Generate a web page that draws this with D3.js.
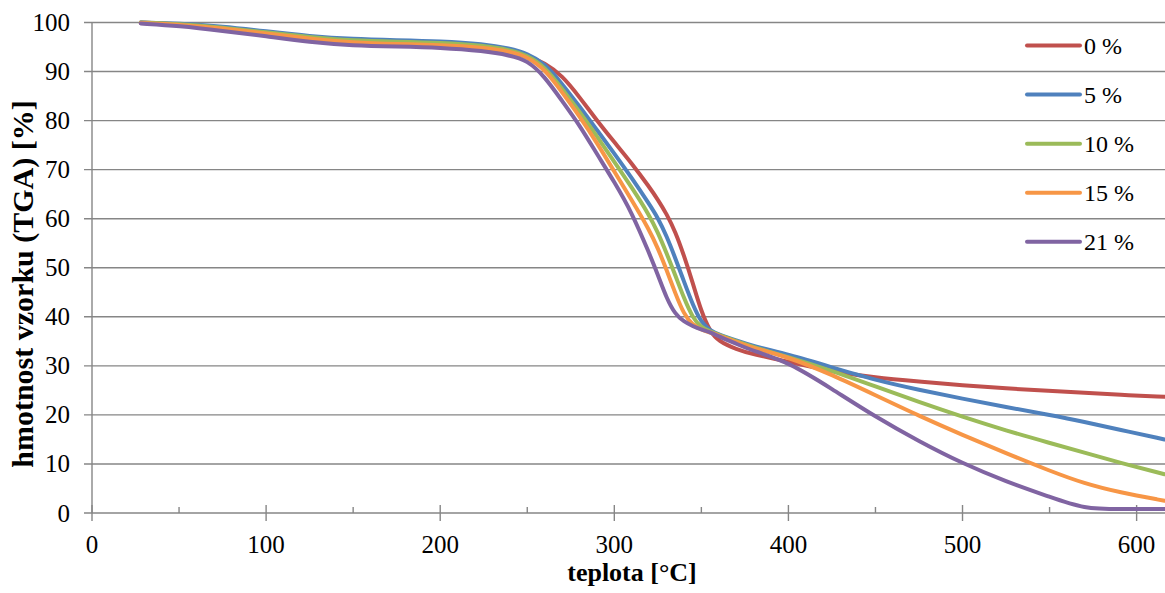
<!DOCTYPE html>
<html>
<head>
<meta charset="utf-8">
<script src="https://cdn.jsdelivr.net/npm/d3@7/dist/d3.min.js"></script>
<style>
  html, body { margin: 0; padding: 0; background: #fff; }
  svg { display: block; }
  text { font-family: "Liberation Serif", "Times New Roman", "DejaVu Serif", serif; fill: #000; }
</style>
</head>
<body>
<svg id="chart" width="1165" height="593"></svg>
<script>
// ---- data ----
const temperatures = [28, 50, 75, 100, 125, 150, 175, 200, 225, 240, 250, 260, 270, 280, 290, 300, 310, 320, 325, 330, 335, 340, 345, 350, 355, 360, 370, 380, 400, 425, 450, 475, 500, 525, 550, 570, 590, 616];

const series0  = [100.0, 99.6, 98.8, 97.6, 96.4, 95.6, 95.3, 95.2, 94.7, 94.0, 93.2, 91.8, 89.2, 84.8, 80.0, 75.6, 71.3, 66.5, 63.9, 61.0, 57.4, 52.5, 47.0, 41.0, 37.0, 35.0, 33.4, 32.3, 30.9, 28.8, 27.6, 26.8, 26.0, 25.4, 24.9, 24.5, 24.1, 23.7];
const series5  = [100.0, 99.8, 99.2, 98.2, 97.2, 96.6, 96.4, 96.2, 95.6, 94.7, 93.7, 91.7, 87.5, 82.9, 78.1, 73.3, 68.3, 63.0, 60.2, 56.5, 52.0, 47.2, 42.5, 38.8, 37.2, 36.4, 35.2, 34.0, 32.3, 29.7, 27.1, 25.1, 23.3, 21.6, 20.0, 18.6, 17.0, 15.0];
const series10 = [100.0, 99.7, 99.0, 98.0, 97.0, 96.3, 96.1, 95.9, 95.3, 94.4, 93.3, 91.0, 86.5, 81.8, 76.8, 71.6, 66.4, 60.8, 57.2, 53.0, 48.5, 43.8, 39.8, 37.8, 37.0, 36.3, 35.0, 33.8, 31.8, 29.0, 25.8, 22.6, 19.6, 16.8, 14.3, 12.3, 10.3, 7.9];
const series15 = [99.9, 99.6, 98.8, 97.8, 96.7, 95.9, 95.6, 95.4, 94.9, 94.1, 93.0, 90.5, 85.8, 80.9, 75.5, 69.6, 63.8, 57.8, 54.0, 49.6, 44.8, 40.5, 38.3, 37.4, 36.8, 36.2, 34.9, 33.6, 31.8, 28.2, 24.0, 19.8, 15.9, 12.2, 8.6, 6.0, 4.2, 2.5];
const series21 = [99.8, 99.3, 98.3, 97.2, 96.0, 95.3, 95.1, 94.9, 94.2, 93.3, 92.3, 89.0, 84.0, 79.1, 73.2, 67.5, 61.3, 53.0, 48.6, 43.8, 40.5, 39.0, 38.1, 37.4, 36.9, 36.0, 34.5, 33.0, 30.8, 25.3, 19.6, 14.6, 10.1, 6.4, 3.3, 0.8, 0.8, 0.8];

const seriesNames  = ["0 %", "5 %", "10 %", "15 %", "21 %"];
const seriesColors = ["#C0504D", "#4F81BD", "#9BBB59", "#F79646", "#8064A2"];
const seriesValues = [series0, series5, series10, series15, series21];

const xTicks = [0, 100, 200, 300, 400, 500, 600];
const xMinorTicks = [50, 150, 250, 350, 450, 550];
const yTicks = [0, 10, 20, 30, 40, 50, 60, 70, 80, 90, 100];

const xTitle = "teplota [°C]";
const yTitle = "hmotnost vzorku (TGA) [%]";

// ---- layout ----
const svg = d3.select("#chart");
const plotLeft = 92, plotRight = 1165, plotTop = 22.5, plotBottom = 513;
const x = d3.scaleLinear().domain([0, 616.3]).range([plotLeft, plotRight]);
const y = d3.scaleLinear().domain([0, 100]).range([plotBottom, plotTop]);
const gridColor = "#868686";

// horizontal gridlines (extend 8px left as tick marks)
svg.append("g").selectAll("line").data(yTicks).join("line")
  .attr("x1", plotLeft - 8).attr("x2", plotRight)
  .attr("y1", d => y(d)).attr("y2", d => y(d))
  .attr("stroke", gridColor).attr("stroke-width", 1.4);

// y axis line
svg.append("line")
  .attr("x1", plotLeft).attr("x2", plotLeft).attr("y1", plotTop).attr("y2", plotBottom)
  .attr("stroke", gridColor).attr("stroke-width", 1.4);

// x major ticks (cross)
svg.append("g").selectAll("line").data(xTicks).join("line")
  .attr("x1", d => x(d)).attr("x2", d => x(d))
  .attr("y1", plotBottom - 8).attr("y2", plotBottom + 8)
  .attr("stroke", gridColor).attr("stroke-width", 1.4);
// x minor ticks (inside)
svg.append("g").selectAll("line").data(xMinorTicks).join("line")
  .attr("x1", d => x(d)).attr("x2", d => x(d))
  .attr("y1", plotBottom - 6).attr("y2", plotBottom)
  .attr("stroke", gridColor).attr("stroke-width", 1.4);

// y tick labels
svg.append("g").selectAll("text").data(yTicks).join("text")
  .attr("x", 70).attr("y", d => y(d)).attr("dy", "0.34em")
  .attr("text-anchor", "end").style("font-size", "25px")
  .text(d => d);

// x tick labels
svg.append("g").selectAll("text").data(xTicks).join("text")
  .attr("x", d => x(d)).attr("y", 553)
  .attr("text-anchor", "middle").style("font-size", "25px")
  .text(d => d);

// axis titles
svg.append("text")
  .attr("x", 632).attr("y", 581)
  .attr("text-anchor", "middle")
  .style("font-size", "26px").style("font-weight", "bold")
  .text(xTitle);
svg.append("text")
  .attr("transform", "translate(33,284) rotate(-90)")
  .attr("text-anchor", "middle")
  .style("font-size", "30px").style("font-weight", "bold")
  .text(yTitle);

// series lines
const line = d3.line()
  .x((d, i) => x(temperatures[i]))
  .y(d => y(d))
  .curve(d3.curveBasis);

svg.append("g").selectAll("path").data(seriesValues).join("path")
  .attr("d", d => line(d))
  .attr("fill", "none")
  .attr("stroke", (d, i) => seriesColors[i])
  .attr("stroke-width", 4)
  .attr("stroke-linejoin", "round")
  .attr("stroke-linecap", "round");

// legend
const legendY = [95, 85, 75, 65, 55];
const lg = svg.append("g").selectAll("g").data(seriesNames).join("g")
  .attr("transform", (d, i) => `translate(0,${y(legendY[i]) - 1.5})`);
lg.append("line")
  .attr("x1", 1027).attr("x2", 1080).attr("y1", 0).attr("y2", 0)
  .attr("stroke", (d, i) => seriesColors[i])
  .attr("stroke-width", 4).attr("stroke-linecap", "round");
lg.append("text")
  .attr("x", 1084).attr("y", 0).attr("dy", "0.34em")
  .style("font-size", "24px")
  .text(d => d);
</script>
</body>
</html>
